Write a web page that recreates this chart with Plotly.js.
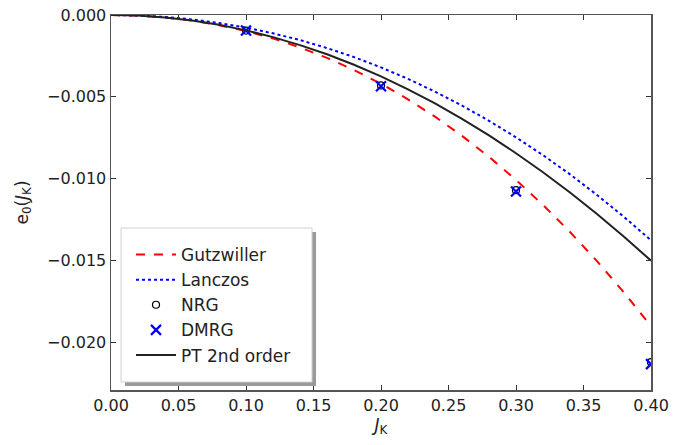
<!DOCTYPE html>
<html>
<head>
<meta charset="utf-8">
<script src="https://cdn.plot.ly/plotly-3.0.1.min.js"></script>
<style>html,body{margin:0;padding:0;background:#fff;}</style>
</head>
<body>
<div id="chart" style="width:698px;height:445px;"></div>
<script>
const J = [0.00,0.02,0.04,0.06,0.08,0.10,0.12,0.14,0.16,0.18,0.20,0.22,0.24,0.26,0.28,0.30,0.32,0.34,0.36,0.38,0.40];
const gutzwiller = [0,-0.000037,-0.00015,-0.00034,-0.00062,-0.00098,-0.00143,-0.00198,-0.00262,-0.00336,-0.0042,-0.00515,-0.00621,-0.00738,-0.00866,-0.01007,-0.0116,-0.01325,-0.01503,-0.01695,-0.0190];
const lanczos = [0,-0.00003,-0.00012,-0.00027,-0.00049,-0.00077,-0.00112,-0.00153,-0.00202,-0.00257,-0.0032,-0.0039,-0.00468,-0.00553,-0.00646,-0.00747,-0.00856,-0.00973,-0.01099,-0.01233,-0.01376];
const pt2 = [0,-0.0000375,-0.00015,-0.00034,-0.0006,-0.00094,-0.00135,-0.00184,-0.0024,-0.00304,-0.00375,-0.00454,-0.0054,-0.00634,-0.00735,-0.00844,-0.0096,-0.01084,-0.01215,-0.01354,-0.0150];
const Jpts = [0.1,0.2,0.3,0.4];
const nrg = [-0.00095,-0.0043,-0.0107,-0.0212];
const dmrg = [-0.00095,-0.00435,-0.01078,-0.02132];
const xTicks = [0,0.05,0.10,0.15,0.20,0.25,0.30,0.35,0.40];
const yTicks = [0,-0.005,-0.010,-0.015,-0.020];

const traces = [
  {x:J, y:gutzwiller, mode:'lines', name:'Gutzwiller', legendgroup:'a', line:{color:'#ff0000', dash:'dash', width:2}},
  {x:J, y:lanczos, mode:'lines', name:'Lanczos', legendgroup:'b', line:{color:'#0000ff', dash:'dot', width:2}},
  {x:Jpts, y:nrg, mode:'markers', name:'NRG', legendgroup:'c', marker:{symbol:'circle-open', size:7, color:'#000', line:{width:1.2, color:'#000'}}},
  {x:Jpts, y:dmrg, mode:'markers', name:'DMRG', legendgroup:'d', marker:{symbol:'x-thin-open', size:10, color:'#0000ff', line:{width:2.2, color:'#0000ff'}}},
  {x:J, y:pt2, mode:'lines', name:'PT 2nd order', legendgroup:'e', line:{color:'#222', width:2}}
];

const axisCommon = {
  showgrid:false, zeroline:false, showline:true, linecolor:'#555', linewidth:1.5, mirror:'ticks',
  ticks:'inside', ticklen:5, tickwidth:1, tickcolor:'#333',
  tickfont:{family:'DejaVu Sans', size:16, color:'#222'}
};

function px(xp){ return (xp-111)/540; }
function py(yp){ return (390-yp)/375; }

const layout = {
  width:698, height:445,
  margin:{l:111, r:47, t:15, b:55},
  paper_bgcolor:'#fff', plot_bgcolor:'#fff',
  font:{family:'DejaVu Sans', color:'#222'},
  xaxis:Object.assign({}, axisCommon, {range:[0,0.40], tickvals:xTicks, tickformat:'.2f',
    title:{text:'<i>J</i><sub>K</sub>', font:{family:'DejaVu Sans', size:17}, standoff:5}}),
  yaxis:Object.assign({}, axisCommon, {range:[-0.0229,0], tickvals:yTicks, tickformat:'.3f',
    title:{text:'e<sub>0</sub>(<i>J</i><sub>K</sub>)', font:{family:'DejaVu Sans', size:17}, standoff:14}}),
  legend:{x:px(131), y:py(237), xanchor:'left', yanchor:'top', bgcolor:'rgba(0,0,0,0)', borderwidth:0,
    itemwidth:40,
    font:{family:'DejaVu Sans', size:17, color:'#222'}, traceorder:'grouped', tracegroupgap:0},
  shapes:[
    {type:'rect', xref:'paper', yref:'paper', x0:px(125), x1:px(316), y0:py(386), y1:py(232), fillcolor:'#9a9a9a', line:{width:0}, layer:'above'},
    {type:'rect', xref:'paper', yref:'paper', x0:px(121), x1:px(312), y0:py(382), y1:py(228), fillcolor:'#fff', line:{width:1, color:'#d0d0d0'}, layer:'above'}
  ]
};

Plotly.newPlot('chart', traces, layout, {displayModeBar:false, staticPlot:true});
</script>
</body>
</html>
